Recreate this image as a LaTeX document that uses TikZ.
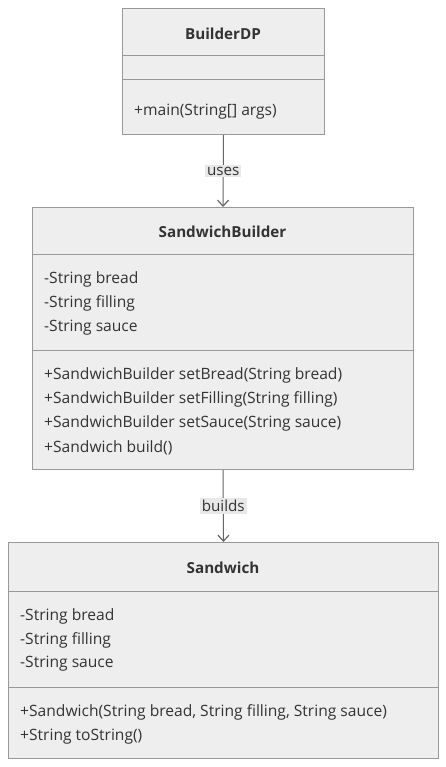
\documentclass[tikz,border=0pt]{standalone}
\usepackage{fontspec}
\setmainfont{Open Sans}
\usetikzlibrary{arrows.meta}
\definecolor{boxfill}{HTML}{EEEEEE}
\definecolor{boxline}{HTML}{999999}
\definecolor{txt}{HTML}{333333}
\definecolor{arrcol}{HTML}{666666}
\definecolor{lblbg}{HTML}{E8E8E8}
\tikzset{
  classbox/.style={draw=boxline, fill=boxfill, line width=1pt, inner sep=0pt, anchor=north west},
  divider/.style={draw=boxline, line width=1pt},
  member/.style={anchor=west, inner sep=0pt, text=txt, font=\fontsize{15.6pt}{17pt}\selectfont},
  title/.style={anchor=center, inner sep=0pt, text=txt, font=\fontsize{15.2pt}{17pt}\selectfont\bfseries},
  rel/.style={draw=arrcol, line width=1pt, -{Straight Barb[length=6pt,width=11pt,line width=1.2pt]}},
  lbl/.style={fill=lblbg, inner xsep=2pt, inner ysep=2pt, text=txt, font=\fontsize{15.2pt}{17pt}\selectfont}
}
\begin{document}
\begin{tikzpicture}[x=1pt,y=-1pt]
\useasboundingbox (0,0) rectangle (446,767);
% BuilderDP
\node[classbox, minimum width=202pt, minimum height=126pt] (bdp) at (122,8) {};
\draw[divider] (122,56) -- (324,56);
\draw[divider] (122,80) -- (324,80);
\node[title] (bdpt) at (223,33.5) {BuilderDP};
\node[member] (bdpm1) at (134,111.5) {+main(String[] args)};
% SandwichBuilder
\node[classbox, minimum width=381pt, minimum height=262pt] (sb) at (32,207) {};
\draw[divider] (32,254) -- (413,254);
\draw[divider] (32,350) -- (413,350);
\node[title] (sbt) at (222.5,231.5) {SandwichBuilder};
\node[member] (sba1) at (44,279.5) {-String bread};
\node[member] (sba2) at (44,303.5) {-String filling};
\node[member] (sba3) at (44,327.5) {-String sauce};
\node[member] (sbm1) at (44,375.5) {+SandwichBuilder setBread(String bread)};
\node[member] (sbm2) at (44,399.5) {+SandwichBuilder setFilling(String filling)};
\node[member] (sbm3) at (44,423.5) {+SandwichBuilder setSauce(String sauce)};
\node[member] (sbm4) at (44,447.5) {+Sandwich build()};
% Sandwich
\node[classbox, minimum width=430pt, minimum height=216pt] (sw) at (8,542) {};
\draw[divider] (8,591) -- (438,591);
\draw[divider] (8,687) -- (438,687);
\node[title] (swt) at (223,568) {Sandwich};
\node[member] (swa1) at (20,616) {-String bread};
\node[member] (swa2) at (20,640) {-String filling};
\node[member] (swa3) at (20,664) {-String sauce};
\node[member] (swm1) at (20,712.5) {+Sandwich(String bread, String filling, String sauce)};
\node[member] (swm2) at (20,736.5) {+String toString()};
% relations
\draw[rel] (bdp.south) -- (sb.north) node[pos=0.5, lbl] {uses};
\draw[rel] (sb.south) -- (sw.north) node[pos=0.5, lbl] {builds};
\end{tikzpicture}
\end{document}
